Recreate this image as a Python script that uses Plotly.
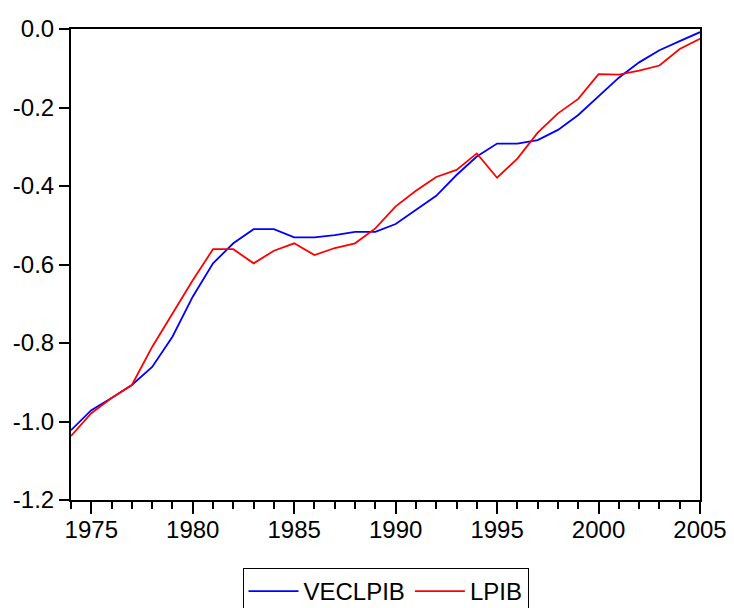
import plotly.graph_objects as go

# Annual observations
years = list(range(1974, 2006))

veclpib = [-1.022, -0.971, -0.940, -0.907, -0.861, -0.784, -0.682, -0.597,
           -0.546, -0.510, -0.510, -0.531, -0.531, -0.525, -0.517, -0.517,
           -0.497, -0.461, -0.425, -0.372, -0.325, -0.292, -0.292, -0.283,
           -0.257, -0.219, -0.172, -0.124, -0.085, -0.054, -0.031, -0.008]

lpib = [-1.037, -0.979, -0.940, -0.907, -0.810, -0.725, -0.640, -0.561,
        -0.561, -0.597, -0.565, -0.546, -0.576, -0.558, -0.546, -0.508,
        -0.452, -0.412, -0.377, -0.359, -0.317, -0.379, -0.330, -0.264,
        -0.215, -0.178, -0.115, -0.116, -0.106, -0.093, -0.051, -0.025]

x_ticks = [1975, 1980, 1985, 1990, 1995, 2000, 2005]
y_ticks = [0.0, -0.2, -0.4, -0.6, -0.8, -1.0, -1.2]

font = "Liberation Sans, Arial, sans-serif"

fig = go.Figure()
fig.add_trace(go.Scatter(x=years, y=veclpib, mode="lines", name="VECLPIB",
                         line=dict(color="#0000FF", width=1.8)))
fig.add_trace(go.Scatter(x=years, y=lpib, mode="lines", name="LPIB",
                         line=dict(color="#FF0000", width=1.8)))

fig.update_layout(
    width=734, height=608,
    margin=dict(l=71, r=34, t=29, b=108, autoexpand=False),
    paper_bgcolor="white", plot_bgcolor="white",
    font=dict(family=font, size=24, color="black"),
    showlegend=True,
    legend=dict(orientation="h", x=0.5, xanchor="center",
                yref="container", y=(608 - 568) / 608, yanchor="top",
                bordercolor="black", borderwidth=1, bgcolor="white",
                font=dict(family=font, size=24, color="black"),
                itemwidth=50, tracegroupgap=0),
)

fig.update_xaxes(
    range=[1974, 2005], tickvals=x_ticks, ticktext=[str(v) for v in x_ticks],
    ticks="outside", ticklen=12, tickwidth=2, tickcolor="black",
    minor=dict(dtick=1, tick0=1974, ticks="outside", ticklen=7, tickwidth=2,
               tickcolor="black", showgrid=False),
    showline=True, linecolor="black", linewidth=2, mirror=True,
    showgrid=False, zeroline=False, automargin=False, ticklabelstandoff=-5,
    tickfont=dict(family=font, size=24, color="black"),
)
fig.update_yaxes(
    range=[-1.2, 0.0], tickvals=y_ticks, ticktext=[f"{v:.1f}" for v in y_ticks],
    ticks="outside", ticklen=10, tickwidth=2, tickcolor="black",
    showline=True, linecolor="black", linewidth=2, mirror=True,
    showgrid=False, zeroline=False, automargin=False,
    tickfont=dict(family=font, size=24, color="black"),
)

fig.write_html("out.html")
